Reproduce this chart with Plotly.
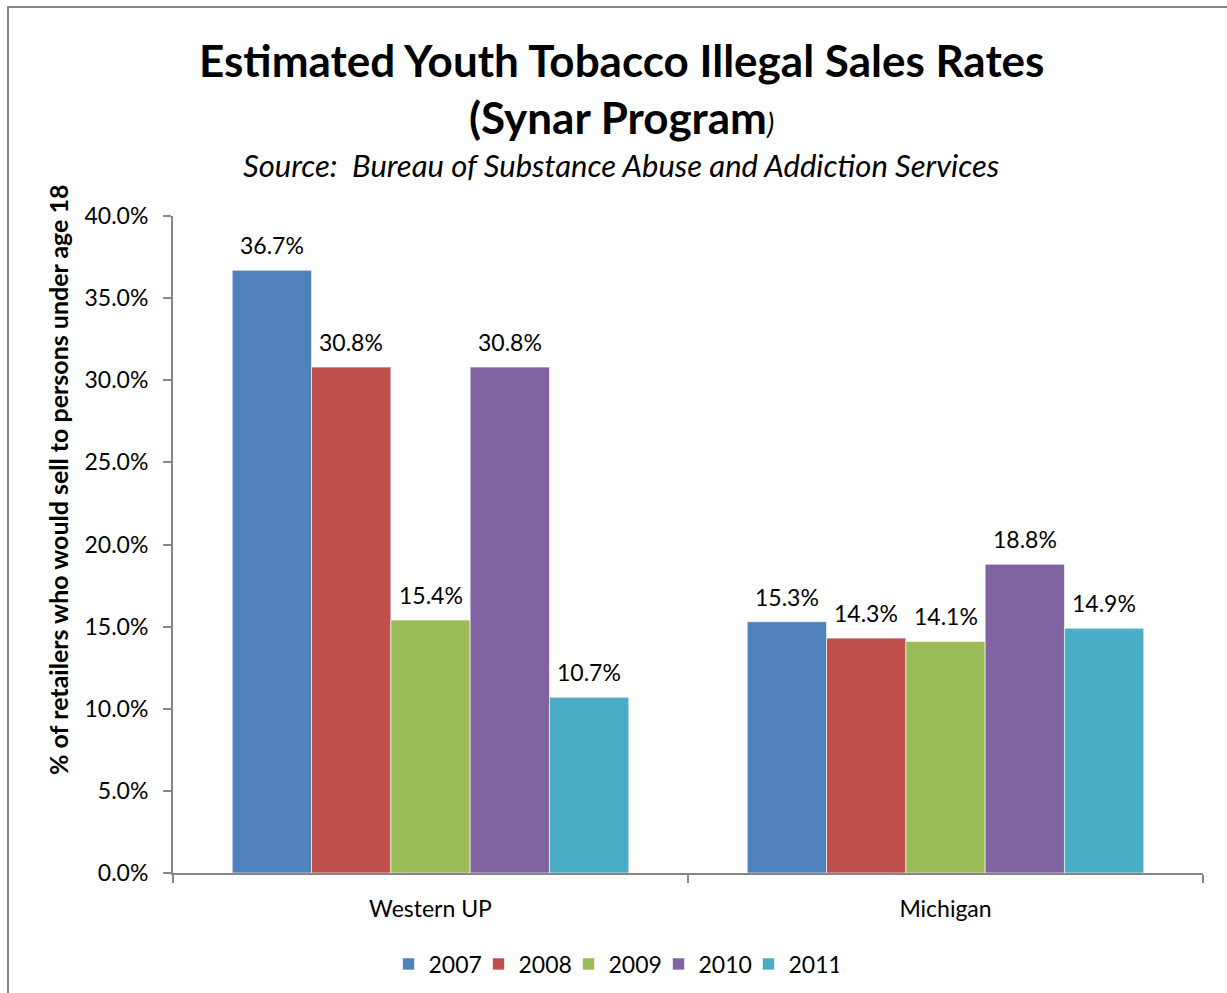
import plotly.graph_objects as go

regions = ["Western UP", "Michigan"]
years = ["2007", "2008", "2009", "2010", "2011"]
rates = {
    "2007": [36.7, 15.3],
    "2008": [30.8, 14.3],
    "2009": [15.4, 14.1],
    "2010": [30.8, 18.8],
    "2011": [10.7, 14.9],
}
colors = ["#4F81BD", "#C0504D", "#9BBB59", "#8064A2", "#4BACC6"]
y_ticks = [0, 5, 10, 15, 20, 25, 30, 35, 40]

FONT = "Lato"
W, H = 1227, 993
ml, mr, mt, mb = 173, 24, 216, 120
BARGAP = 0.23

fig = go.Figure()
for yr, col in zip(years, colors):
    fig.add_trace(go.Bar(
        name=yr,
        x=regions,
        y=rates[yr],
        marker=dict(color=col, line=dict(color="rgba(255,255,255,0.6)", width=1)),
        hoverinfo="x+y+name",
    ))

# value labels above each bar, placed at the bar's own value
plot_w = W - ml - mr
cat_w = plot_w / len(regions)
bar_w = cat_w * (1 - BARGAP) / len(years)
for i, yr in enumerate(years):
    for reg, v in zip(regions, rates[yr]):
        fig.add_annotation(
            x=reg, y=v, xref="x", yref="y",
            text=f"{v:.1f}%", showarrow=False,
            xanchor="center", yanchor="middle",
            xshift=(i - (len(years) - 1) / 2) * bar_w, yshift=25,
            font=dict(family=FONT, size=23, color="#000000"),
        )

fig.update_layout(
    width=W, height=H,
    margin=dict(l=ml, r=mr, t=mt, b=mb),
    paper_bgcolor="white",
    plot_bgcolor="white",
    barmode="group",
    bargap=BARGAP,
    bargroupgap=0,
    font=dict(family=FONT, size=23, color="#000000"),
    showlegend=True,
    legend=dict(
        orientation="h",
        x=0.5, xanchor="center", xref="container",
        y=1 - 964 / H, yanchor="middle", yref="container",
        font=dict(family=FONT, size=23),
        entrywidth=45, entrywidthmode="pixels",
        itemwidth=30,
        traceorder="normal",
    ),
    xaxis=dict(
        type="category",
        showline=True, linecolor="#868686", linewidth=2,
        ticks="outside", tickson="boundaries", ticklen=8, tickcolor="#868686", tickwidth=2,
        tickfont=dict(family=FONT, size=23),
        ticklabelstandoff=14,
        showgrid=False, zeroline=False,
    ),
    yaxis=dict(
        range=[0, 40],
        tickvals=y_ticks,
        ticktext=[f"{v:.1f}%" for v in y_ticks],
        showline=True, linecolor="#868686", linewidth=2,
        ticks="outside", ticklen=8, tickcolor="#868686", tickwidth=2,
        tickfont=dict(family=FONT, size=23),
        ticklabelstandoff=10,
        showgrid=False, zeroline=False,
    ),
)

def px_to_paper(px, py):
    return (px - ml) / (W - ml - mr), 1 - (py - mt) / (H - mt - mb)

titles = [
    ("<b>Estimated Youth Tobacco Illegal Sales Rates</b>", 621, 60, 44),
    ("<b>(Synar Program</b><i><span style='font-size:28px'>)</span></i>", 621, 117, 44),
    ("<i>Source:  Bureau of Substance Abuse and Addiction Services</i>", 621, 165, 31),
]
for text, px, py, size in titles:
    x, y = px_to_paper(px, py)
    fig.add_annotation(
        text=text, xref="paper", yref="paper", x=x, y=y,
        xanchor="center", yanchor="middle", showarrow=False,
        font=dict(family=FONT, color="#000000", size=size),
    )

x, y = px_to_paper(58, 480)
fig.add_annotation(
    text="<b>% of retailers who would sell to persons under age 18</b>",
    xref="paper", yref="paper", x=x, y=y,
    xanchor="center", yanchor="middle", textangle=-90, showarrow=False,
    font=dict(family=FONT, size=25, color="#000000"),
)

# chart frame
x0, y1 = px_to_paper(8, 7)
x1, y0 = px_to_paper(1240, 1005)
fig.add_shape(
    type="rect", xref="paper", yref="paper",
    x0=x0, x1=x1, y0=y0, y1=y1,
    line=dict(color="#868686", width=2), fillcolor="rgba(0,0,0,0)", layer="below",
)

fig.write_html("out.html")
